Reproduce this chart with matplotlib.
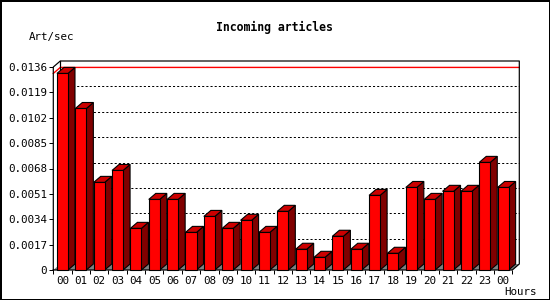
import matplotlib
matplotlib.use("Agg")
import matplotlib.pyplot as plt
from matplotlib.patches import Rectangle, Polygon

# ---- data (articles per second, per hour) ----
hours = ["00", "01", "02", "03", "04", "05", "06", "07", "08", "09", "10", "11",
         "12", "13", "14", "15", "16", "17", "18", "19", "20", "21", "22", "23", "00"]
rate = [0.01317, 0.01082, 0.00587, 0.00667, 0.00279, 0.00473, 0.00473, 0.00252,
        0.00359, 0.00279, 0.00333, 0.00252, 0.00393, 0.00139, 0.00085, 0.00226,
        0.00139, 0.00500, 0.00112, 0.00553, 0.00473, 0.00527, 0.00527, 0.00721,
        0.00553]
yticks = [0, 0.0017, 0.0034, 0.0051, 0.0068, 0.0085, 0.0102, 0.0119, 0.0136]
ytick_labels = ["0", "0.0017", "0.0034", "0.0051", "0.0068", "0.0085",
                "0.0102", "0.0119", "0.0136"]

FRONT_C, TOP_C, SIDE_C, FLOOR_C = "#ff0000", "#cc0000", "#800000", "#808080"
MONO = "DejaVu Sans Mono"
PX = 0.72  # one pixel in points at dpi=100
plt.rcParams["lines.scale_dashes"] = False

W, H = 550, 300
fig = plt.figure(figsize=(W / 100, H / 100), dpi=100)
fig.patch.set_facecolor("white")

# front plot box in pixels: x 53..512, y 67..270 (from top)
ax = fig.add_axes([53.3 / W, 30 / H, 459 / W, 203 / H])
n = len(rate)
ymax = yticks[-1]
ax.set_xlim(-0.5, n - 0.5)
ax.set_ylim(0, ymax)
ax.set_facecolor("none")
for s in ax.spines.values():
    s.set_visible(False)

# depth offsets (7px right, 6px up) in data units
dx = 7 / (459 / n)
dy = 6 * ymax / 203
x0, x1 = -0.5, n - 0.5

# back wall grid (dotted)
for t in yticks[1:-1]:
    ax.plot([x0 + dx, x1 + dx], [t + dy, t + dy], color="black", lw=PX,
            linestyle=(0, (1.5, 1.5)), clip_on=False, zorder=1)

# max line in red
vmax = max(rate)
ax.plot([x0, x0 + dx, x1 + dx], [vmax, vmax + dy, vmax + dy], color="red",
        lw=1.4 * PX, clip_on=False, zorder=2)

# floor
ax.add_patch(Polygon([(x0, 0), (x1, 0), (x1 + dx, dy), (x0 + dx, dy)],
                     closed=True, facecolor=FLOOR_C, edgecolor="none",
                     clip_on=False, zorder=2))

# frame lines
frame_kw = dict(color="black", lw=1.2 * PX, clip_on=False, zorder=3,
                solid_capstyle="projecting")
ax.plot([x0, x0, x0 + dx, x1 + dx, x1 + dx, x1, x0],
        [0, ymax, ymax + dy, ymax + dy, dy, 0, 0], **frame_kw)
ax.plot([x0 + dx, x0 + dx], [dy, ymax + dy], **frame_kw)

# 3D bars
for i, v in enumerate(rate):
    L, R = i - 0.3, i + 0.3
    kw = dict(edgecolor="black", linewidth=1.1 * PX, clip_on=False, zorder=5,
              joinstyle="miter")
    ax.add_patch(Polygon([(R, 0), (R + dx, dy), (R + dx, v + dy), (R, v)],
                         closed=True, facecolor=SIDE_C, **kw))
    ax.add_patch(Polygon([(L, v), (R, v), (R + dx, v + dy), (L + dx, v + dy)],
                         closed=True, facecolor=TOP_C, **kw))
    ax.add_patch(Rectangle((L, 0), R - L, v, facecolor=FRONT_C, **kw))

# ticks
ax.set_yticks(yticks)
ax.set_yticklabels(ytick_labels, fontfamily=MONO, fontsize=7.8)
ax.tick_params(axis="y", direction="out", length=3, width=PX, pad=1.5)
ax.set_xticks([k - 0.5 for k in range(n + 1)])
ax.set_xticklabels([])
ax.tick_params(axis="x", which="major", direction="out", length=3, width=PX)
ax.set_xticks(range(n), minor=True)
ax.set_xticklabels(hours, minor=True, fontfamily=MONO, fontsize=7.8)
ax.tick_params(axis="x", which="minor", length=0, pad=4.5)

# texts
fig.text(274 / W, 1 - 27 / H, "Incoming articles", ha="center", va="center",
         fontfamily=MONO, fontweight="bold", fontsize=8.3)
fig.text(29 / W, 1 - 37 / H, "Art/sec", ha="left", va="center",
         fontfamily=MONO, fontsize=7.8)
fig.text(504 / W, 1 - 292 / H, "Hours", ha="left", va="center",
         fontfamily=MONO, fontsize=7.8)

# outer border
fig.patches.append(Rectangle((0, 0), 1, 1, transform=fig.transFigure,
                             fill=False, edgecolor="black", lw=3 * PX))

fig.savefig("out.png", dpi=100)
